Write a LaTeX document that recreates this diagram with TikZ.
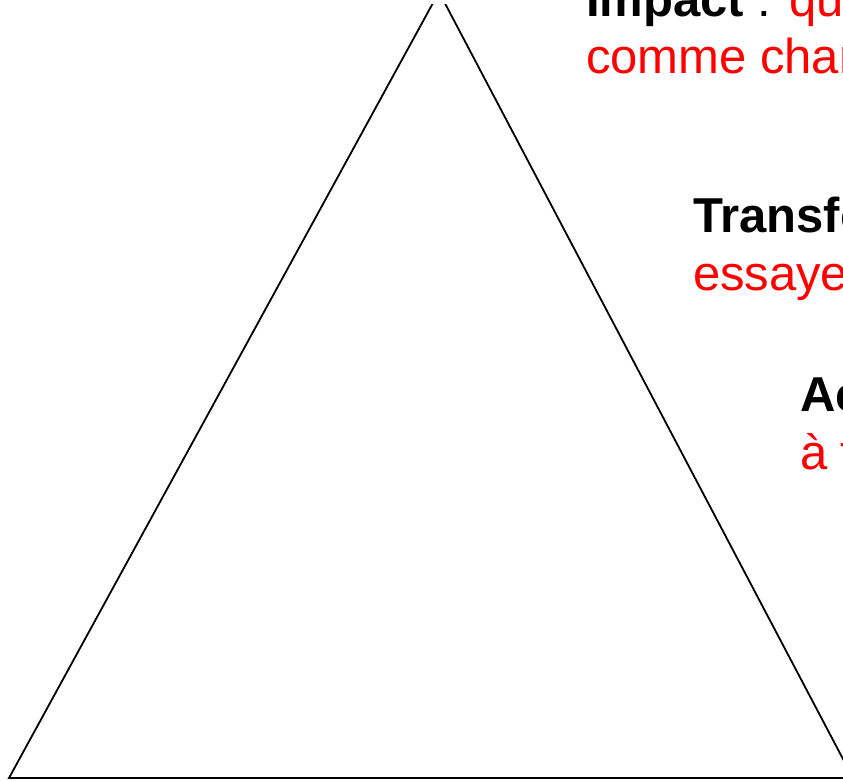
\documentclass[tikz,border=0pt]{standalone}
\usepackage{fontspec}
\setmainfont{Liberation Sans}
\begin{document}
\begin{tikzpicture}[x=1pt,y=-1pt,
  txt/.style={anchor=base west,inner sep=0pt,outer sep=0pt,font=\fontsize{49}{58}\selectfont},
  edge/.style={line width=1.8pt,black,line join=miter}]
\useasboundingbox (0,0) rectangle (843,781);
\clip (0,0) rectangle (843,781);
\fill[white] (0,0) rectangle (843,781);
% triangle (its apex lies above the visible area)
\coordinate (apex) at (439,-8);
\coordinate (bl) at (9,778);
\coordinate (br) at (853,778);
\begin{scope}
\clip (0,5) rectangle (843,781);
\draw[edge] (bl) -- (apex) -- (br) -- cycle;
\end{scope}
% texts
\node[txt] (impact) at (586,17) {\textbf{Impact} : \textcolor{red}{qu'est-ce que}};
\node[txt,text=red] (comme) at (586,74) {comme changement};
\node[txt] (transf) at (693,232) {\textbf{Transformation}};
\node[txt,text=red] (essaye) at (693,290) {essayer};
\node[txt] (action) at (800,411) {\textbf{Action}};
\node[txt,text=red] (afaire) at (800,469) {à faire};
\end{tikzpicture}
\end{document}
